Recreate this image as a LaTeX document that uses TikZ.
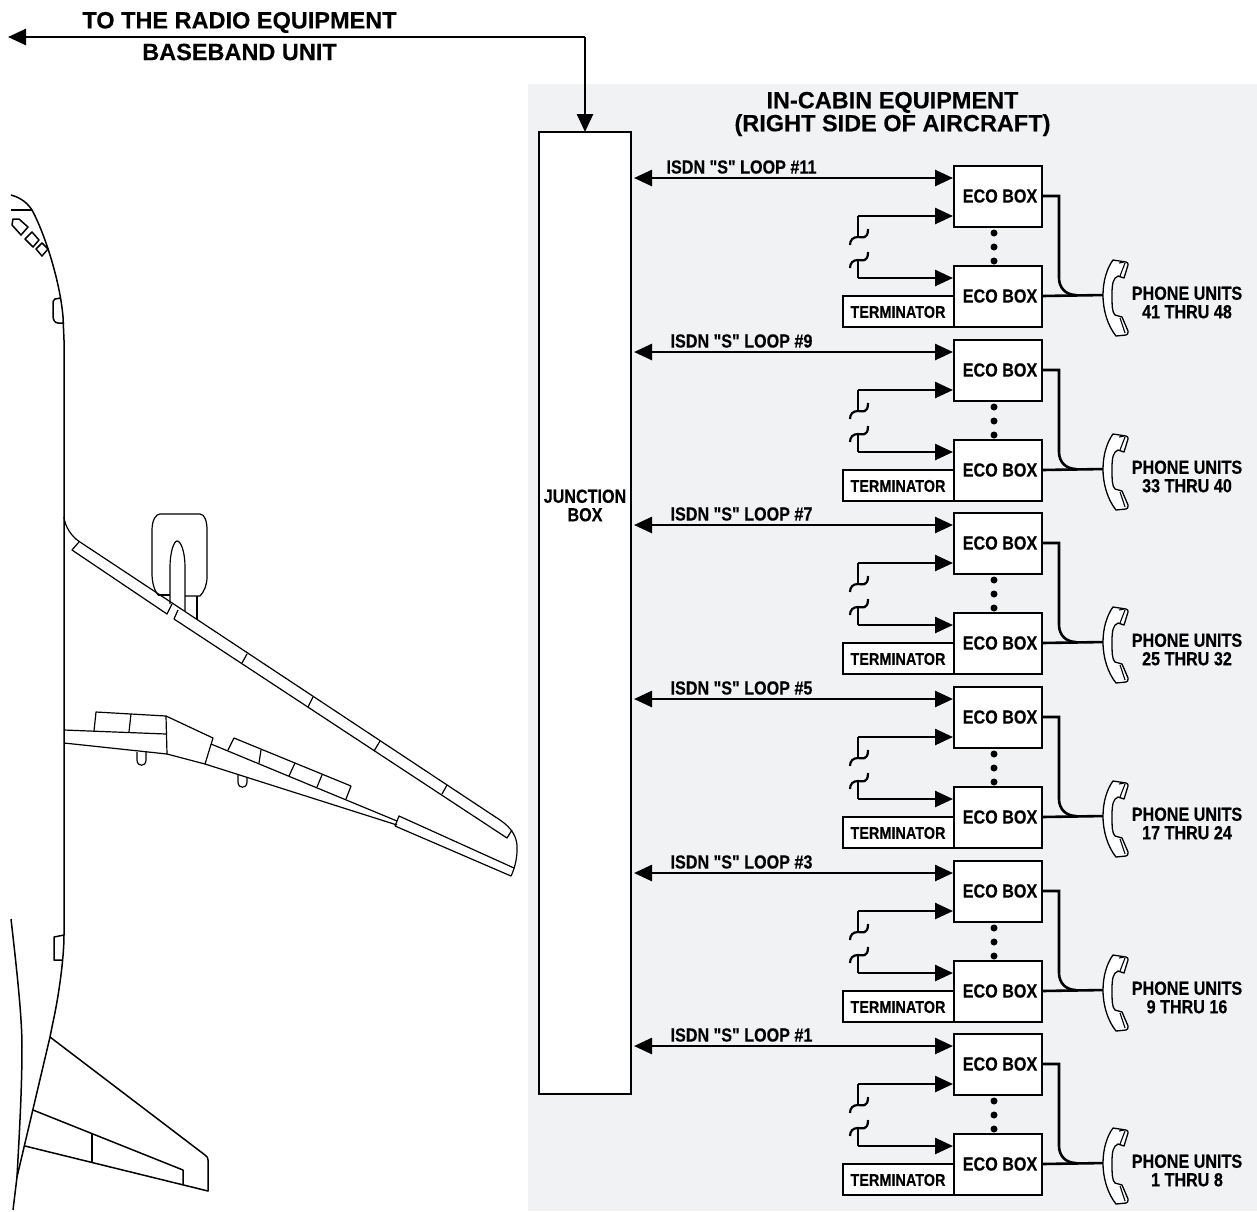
\documentclass[tikz,border=0pt]{standalone}
\usepackage{fontspec}
\setmainfont{Liberation Sans}[BoldFeatures={FakeBold=0.25}]
\newfontfamily\condf{Liberation Sans}[FakeStretch=0.85,BoldFeatures={FakeStretch=0.85,FakeBold=0.3}]
\usetikzlibrary{arrows.meta,calc}
\definecolor{cabin}{HTML}{F1F2F4}
\tikzset{
  wire/.style={line width=2.6pt,line join=miter},
  tipb/.style={wire,-{Triangle[length=18pt,width=16pt]}},
  tipd/.style={wire,{Triangle[length=18pt,width=16pt]}-{Triangle[length=18pt,width=16pt]}},
  box/.style={draw,line width=2.6pt,fill=white,inner sep=0pt,outer sep=0pt,anchor=north west},
  smalllab/.style={font=\condf\bfseries\fontsize{19}{18.5}\selectfont,inner sep=0pt,align=center},
  termlab/.style={font=\condf\bfseries\fontsize{17}{17}\selectfont,inner sep=0pt},
  biglab/.style={font=\bfseries\fontsize{23.5}{23}\selectfont,inner sep=0pt,align=center},
  plane/.style={line width=1.2pt,line join=round},
  bodyline/.style={line width=1.5pt,line join=round},
  dotmark/.style={circle,fill=black,inner sep=0pt,minimum size=7pt},
}
\begin{document}
\begin{tikzpicture}[x=1pt,y=-1pt]
\useasboundingbox (0,0) rectangle (1257,1211);
\fill[cabin] (528,84) rectangle (1257,1211);

% aircraft: nose
\draw[bodyline] (11,195) .. controls (22,198) and (28,204) .. (32,210)
  .. controls (44,232) and (60,280) .. (63,317) -- (64,340) -- (64,517);
\draw[bodyline] (11,210) -- (32,210);
\draw[bodyline] (13,219) -- (19,219) -- (28,227) -- (21,235) -- (12,225) -- cycle;
\draw[bodyline] (32,232) -- (39,240) -- (33,247) -- (25,239) -- cycle;
\draw[bodyline] (42,243) -- (48,249) -- (42,256) -- (36,249) -- cycle;
\draw[bodyline] (61,298) -- (55,299) .. controls (53,300) and (53,302) .. (53,304) -- (53,316)
  .. controls (53,320) and (55,323) .. (58,323) -- (64,323);
% fuselage side
\draw[bodyline] (64,517) -- (64,935) .. controls (64,960) and (58,1000) .. (53,1022)
  -- (50,1037) -- (17,1177) -- (13,1210);
\draw[bodyline] (11,919) .. controls (18,980) and (22,1020) .. (22,1047) .. controls (22,1090) and (19,1140) .. (17,1177);
\draw[bodyline] (64,935) -- (54,937) -- (54,960) -- (62,960);
% wing leading edge and slats
\draw[plane] (64,517) .. controls (65,527) and (72,537) .. (80,542) -- (500,820)
  .. controls (512,828) and (518,838) .. (517,850) .. controls (517,860) and (514,870) .. (511,876)
  -- (395,826);
\draw[plane] (79,542) -- (72,550) -- (167,614) -- (172,604);
\draw[plane] (178,610) -- (174,619) -- (507,838) -- (512,830);
\draw[plane] (242,663) -- (247,654);
\draw[plane] (308,707) -- (313,697);
\draw[plane] (374,751) -- (380,741);
\draw[plane] (442,794) -- (447,785);
% engine
\draw[plane] (158,595) .. controls (154,590) and (152,582) .. (152,573) -- (152,530)
  .. controls (152,520) and (156,514) .. (160,514) -- (200,514)
  .. controls (205,514) and (207,522) .. (207,530) -- (207,577)
  .. controls (207,585) and (204,592) .. (200,596) -- (185,596);
\draw[plane] (158,595) -- (170,595);
\draw[plane] (170,604) -- (170,567) .. controls (170,552) and (174,541) .. (177,541)
  .. controls (181,541) and (185,552) .. (185,567) -- (185,611);
\draw[plane] (197,596) -- (197,619);
% wing trailing edge
\draw[plane] (64,730) -- (166,734);
\draw[plane] (64,743) -- (167,754) -- (205,764) -- (397,825);
\draw[plane] (94,731) -- (96,712) -- (166,716) -- (167,754);
\draw[plane] (131,714) -- (129,732);
\draw[plane] (166,716) -- (213,738) -- (205,764);
\draw[plane] (211,744) -- (397,821);
\draw[plane] (228,750) -- (234,738) -- (351,786) -- (346,799);
\draw[plane] (261,750) -- (259,763);
\draw[plane] (295,763) -- (289,776);
\draw[plane] (322,775) -- (317,787);
\draw[plane] (395,826) -- (399,816) -- (514,868);
\draw[plane] (137,752) -- (137,760) .. controls (137,767) and (146,767) .. (146,760) -- (146,752);
\draw[plane] (238,775) -- (238,782) .. controls (238,789) and (247,789) .. (247,782) -- (247,778);
% tailplane
\draw[bodyline] (50,1037) -- (205,1155) .. controls (207,1156) and (208,1158) .. (208,1160) -- (208,1191) -- (25,1146);
\draw[bodyline] (33,1110) -- (183,1170) -- (183,1184);
\draw[bodyline] (92,1134) -- (92,1162);

% junction box and top connection
\node[box,minimum width=92pt,minimum height=962pt] (jb) at (539,132) {};
\node[smalllab] (jblab) at (585,505.5) {JUNCTION\\BOX};
\coordinate (rbu) at (8,37);
\coordinate (bend) at (585,37);
\draw[tipb] (bend) -- (rbu);
\draw[tipb] (bend) -- (jb.north);
\node[biglab] (top1) at (239.5,22.5) {TO THE RADIO EQUIPMENT};
\node[biglab] (top2) at (239.5,52) {BASEBAND UNIT};
\node[biglab] (cabintitle) at (892.5,114) {IN-CABIN EQUIPMENT\\(RIGHT SIDE OF AIRCRAFT)};

\foreach \i/\t/\lp/\pa/\pb in {a/166/11/41/48, b/340/9/33/40, c/513/7/25/32, d/687/5/17/24, e/861/3/9/16, f/1034/1/1/8} {
  \begin{scope}[shift={(0,\t)}]
    \node[box,minimum width=88pt,minimum height=61pt] (up\i) at (954,0) {};
    \node[box,minimum width=88pt,minimum height=61pt] (lo\i) at (954,100) {};
    \node[box,minimum width=111pt,minimum height=31pt] (tm\i) at (843,130) {};
    \draw[line width=2.6pt] (lo\i.north west) -- (lo\i.south west);
    \node[smalllab] (ecou\i) at (1000,30) {ECO BOX};
    \node[smalllab] (ecol\i) at (1000,130) {ECO BOX};
    \node[termlab] (tml\i) at (898,146) {TERMINATOR};
    \node[smalllab,anchor=center] (lb\i) at (741.5,1) {ISDN "S" LOOP \#\lp};
    \node[dotmark] (da\i) at (994,67) {};
    \node[dotmark] (db\i) at (994,81) {};
    \node[dotmark] (dc\i) at (994,95) {};
    % main loop
    \coordinate (ja\i) at (634,12);
    \coordinate (ea\i) at (953,12);
    \draw[tipd] (ja\i) -- (ea\i);
    % broken feeds
    \coordinate (cu\i) at (858,50);
    \coordinate (cl\i) at (858,112);
    \draw[wire] (858,71) -- (cu\i);
    \draw[tipb] (cu\i) -- (953,50);
    \draw[wire] (858,94) -- (cl\i);
    \draw[tipb] (cl\i) -- (953,112);
    \draw[wire,line width=2.2pt] (868,63) .. controls (868,74) and (862,71) .. (858,71) .. controls (853,71) and (850,74) .. (850,79);
    \draw[wire,line width=2.2pt] (868,86) .. controls (868,97) and (862,94) .. (858,94) .. controls (853,94) and (850,97) .. (850,102);
    % phone lines
    \coordinate (ph\i) at (1105,129);
    \draw[wire] (up\i.east |- ecou\i) -- (1059,30) -- (1059,112) .. controls (1059,122) and (1066,129) .. (1076,129);
    \draw[wire] (lo\i.east |- ecol\i) -- (ph\i);
    % handset
    \draw[line width=1.3pt,fill=white,line join=round]
      (1113,94) -- (1126,96) .. controls (1128,96) and (1128,98) .. (1128,99) -- (1124,112)
      -- (1118,110) .. controls (1113,112) and (1112,118) .. (1112,128)
      .. controls (1112,140) and (1112,146) .. (1115,149)
      -- (1122,151) -- (1128,165) .. controls (1128,168) and (1128,168) .. (1126,169)
      -- (1116,170) .. controls (1108,160) and (1103,145) .. (1103,129)
      .. controls (1103,115) and (1107,102) .. (1113,94) -- cycle;
    \draw[line width=1.1pt] (1119,97) -- (1124,96) (1120,110) -- (1125,97)
      (1120,152) -- (1125,167);
    \node[smalllab] (pu\i) at (1187,136.5) {PHONE UNITS\\\pa\ THRU \pb};
  \end{scope}
}
\end{tikzpicture}
\end{document}
